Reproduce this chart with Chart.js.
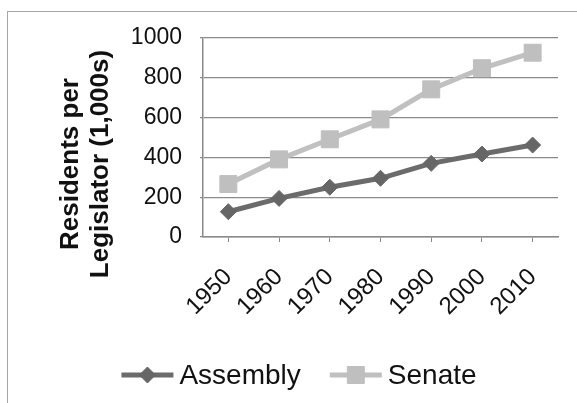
<!DOCTYPE html>
<html>
<head>
<meta charset="utf-8">
<script src="https://cdn.jsdelivr.net/npm/chart.js@4.4.1/dist/chart.umd.min.js"></script>
<style>
  html, body { margin: 0; padding: 0; background: #fff; overflow: hidden; }
  #wrap { position: relative; width: 577px; height: 403px; }
  #frame {
    position: absolute; left: 7px; top: 11px; width: 620px; height: 430px;
    border: 1.5px solid #a6a6a6; box-sizing: border-box;
  }
  #chart { position: absolute; left: 0; top: 0; }
</style>
</head>
<body>
<div id="wrap">
  <div id="frame"></div>
  <canvas id="chart" width="577" height="403"></canvas>
</div>
<script>
	// Chart data
	const years = ['1950', '1960', '1970', '1980', '1990', '2000', '2010'];
	const assemblyValues = [127, 194, 250, 295, 370, 417, 462];
	const senateValues = [266, 390, 491, 591, 742, 848, 926];
	const yTicks = [0, 200, 400, 600, 800, 1000];
	const yTitleLines = ['Residents per', 'Legislator (1,000s)'];

	const FONT = '"Liberation Sans", Arial, sans-serif';

	/**
	 * Y axis title, drawn in two rotated lines
	 */
	const yTitlePlugin = {
		id: 'yTitle',
		afterDraw: function(chart) {
			const ctx = chart.ctx;
			const cy = 164;
			const baselines = [78, 108];
			ctx.save();
			ctx.fillStyle = '#111';
			ctx.font = 'bold 26px ' + FONT;
			ctx.textAlign = 'center';
			ctx.textBaseline = 'alphabetic';
			yTitleLines.forEach(function(line, i) {
				ctx.save();
				ctx.translate(baselines[i], cy);
				ctx.rotate(-Math.PI / 2);
				ctx.fillText(line, 0, 0);
				ctx.restore();
			});
			ctx.restore();
		}
	};

	/**
	 * Legend with a line sample and marker for each series (Excel style)
	 */
	const lineLegendPlugin = {
		id: 'lineLegend',
		afterDraw: function(chart) {
			const ctx = chart.ctx;
			const sampleW = 52, textGap = 6, itemGap = 29;
			const centerX = 299, centerY = 375;
			ctx.save();
			ctx.font = '28px ' + FONT;
			ctx.textBaseline = 'middle';
			ctx.textAlign = 'left';
			const items = chart.data.datasets.map(function(ds) {
				return { ds: ds, w: sampleW + textGap + ctx.measureText(ds.label).width };
			});
			const total = items.reduce(function(a, it) { return a + it.w; }, 0) + itemGap * (items.length - 1);
			let x = centerX - total / 2;
			items.forEach(function(it) {
				const ds = it.ds;
				ctx.strokeStyle = ds.borderColor;
				ctx.lineWidth = 5;
				ctx.beginPath();
				ctx.moveTo(x, centerY);
				ctx.lineTo(x + sampleW, centerY);
				ctx.stroke();
				ctx.fillStyle = ds.pointBackgroundColor;
				ctx.strokeStyle = ds.pointBorderColor;
				ctx.lineWidth = 1;
				Chart.helpers.drawPoint(ctx, {
					pointStyle: ds.pointStyle,
					radius: ds.pointRadius,
					rotation: 0,
					borderWidth: 1
				}, x + sampleW / 2, centerY);
				ctx.fillStyle = '#111';
				ctx.fillText(ds.label, x + sampleW + textGap, centerY + 1);
				x += it.w + itemGap;
			});
			ctx.restore();
		}
	};

	const ctx = document.getElementById('chart');
	new Chart(ctx, {
		type: 'line',
		data: {
			labels: years,
			datasets: [{
				label: 'Assembly',
				data: assemblyValues,
				borderColor: '#6b6b6b',
				backgroundColor: '#6b6b6b',
				borderWidth: 5,
				pointStyle: 'rectRot',
				pointRadius: 8,
				pointBackgroundColor: '#666666',
				pointBorderColor: '#666666',
				pointBorderWidth: 1,
				tension: 0
			}, {
				label: 'Senate',
				data: senateValues,
				borderColor: '#c0c0c0',
				backgroundColor: '#c0c0c0',
				borderWidth: 5,
				pointStyle: 'rect',
				pointRadius: 12,
				pointBackgroundColor: '#bfbfbf',
				pointBorderColor: '#bfbfbf',
				pointBorderWidth: 1,
				tension: 0
			}]
		},
		options: {
			responsive: false,
			animation: false,
			layout: {
				padding: { left: 38, right: 19, top: 38, bottom: 0 }
			},
			plugins: {
				legend: { display: false },
				tooltip: { enabled: false }
			},
			scales: {
				x: {
					offset: true,
					afterFit: function(scale) { scale.height = 166; },
					border: { color: '#8a8a8a', width: 1.5 },
					grid: {
						offset: false,
						drawOnChartArea: false,
						color: '#8a8a8a',
						tickLength: 5
					},
					ticks: {
						color: '#111',
						font: { family: FONT, size: 24 },
						minRotation: 45,
						maxRotation: 45,
						padding: 21
					}
				},
				y: {
					min: 0,
					max: 1000,
					afterFit: function(scale) { scale.width = 165; },
					afterBuildTicks: function(scale) {
						scale.ticks = yTicks.map(function(v) { return { value: v }; });
					},
					border: { color: '#8a8a8a', width: 1.5 },
					grid: {
						color: '#8a8a8a',
						lineWidth: 1.2,
						tickLength: 3
					},
					ticks: {
						color: '#111',
						font: { family: FONT, size: 23 },
						padding: 18,
						callback: function(value) { return String(value); }
					}
				}
			}
		},
		plugins: [yTitlePlugin, lineLegendPlugin]
	});
</script>
</body>
</html>
